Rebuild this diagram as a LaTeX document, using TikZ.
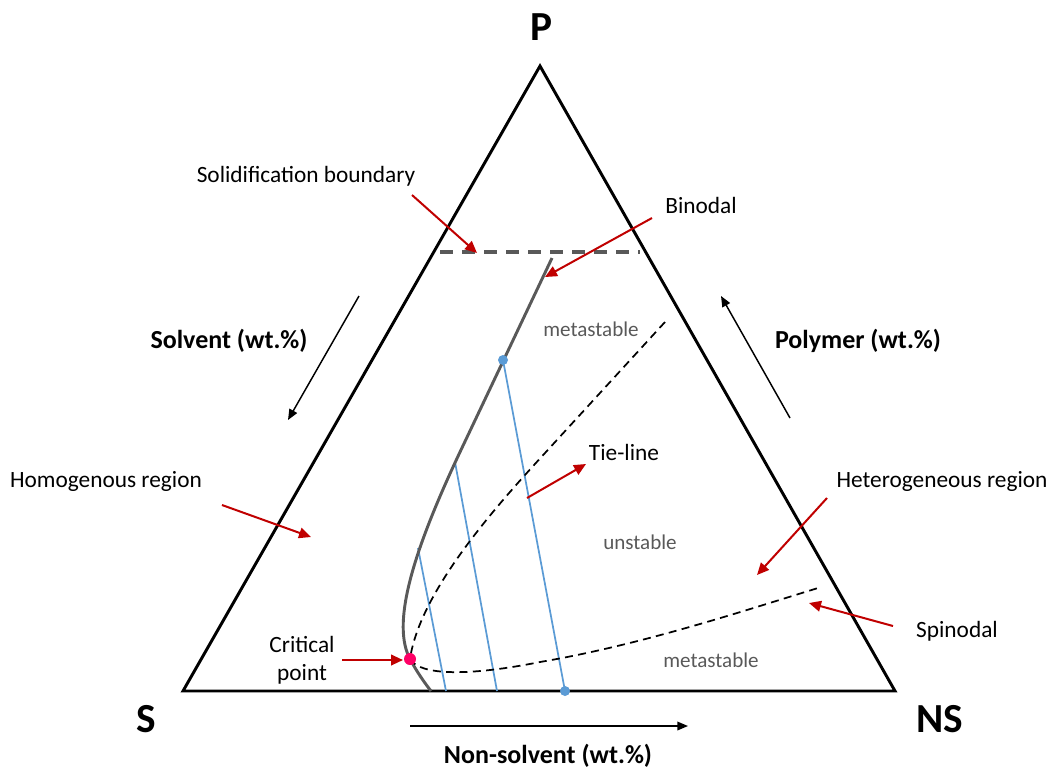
\documentclass[tikz,border=0pt]{standalone}
\usepackage{fontspec}
\setmainfont{Carlito}
\usetikzlibrary{arrows.meta}
\definecolor{darkred}{HTML}{C00000}
\definecolor{tieblue}{HTML}{5B9BD5}
\definecolor{dgray}{HTML}{595959}
\definecolor{critpink}{HTML}{FF0066}
\begin{document}
\begin{tikzpicture}[x=0.75pt,y=-0.75pt,
  lbl/.style={font=\fontsize{17.5}{21}\selectfont, text=black, inner sep=0pt},
  axlbl/.style={font=\bfseries\fontsize{19.5}{23}\selectfont, inner sep=0pt},
  corner/.style={font=\bfseries\fontsize{31}{34}\selectfont, inner sep=0pt},
  region/.style={font=\fontsize{15.8}{19}\selectfont, text=dgray, inner sep=0pt},
  redarrow/.style={draw=darkred, line width=1.5pt, -{Triangle[length=9pt,width=8pt]}},
  blackarrow/.style={draw=black, line width=1.1pt, -{Triangle[length=8pt,width=6.5pt]}},
  tie/.style={draw=tieblue, line width=1.3pt},
  bluedot/.style={circle, fill=tieblue, inner sep=0pt, minimum size=7.5pt},
]
\useasboundingbox (0,0) rectangle (1049,769);
% corners
\coordinate (P) at (540,66);
\coordinate (S) at (183,691);
\coordinate (NS) at (895,691);
\draw[line width=2.2pt, line join=miter] (P) -- (S) -- (NS) -- cycle;
\node[corner] (Plbl) at (541,27) {P};
\node[corner] (Slbl) at (146,719) {S};
\node[corner] (NSlbl) at (940,719) {NS};
% solidification boundary
\coordinate (sb1) at (440,252);
\coordinate (sb2) at (640,252);
\draw[dgray, line width=2.3pt, dash pattern=on 10pt off 6.5pt] (sb1) -- (sb2);
% tie-lines
\coordinate (t1a) at (503,360); \coordinate (t1b) at (565,691);
\coordinate (t2a) at (455,462); \coordinate (t2b) at (497,691);
\coordinate (t3a) at (418,548); \coordinate (t3b) at (446,691);
\draw[tie] (t1a) -- (t1b);
\draw[tie] (t2a) -- (t2b);
\draw[tie] (t3a) -- (t3b);
% binodal
\coordinate (bTop) at (552,258);
\coordinate (bMid) at (460,452);
\coordinate (crit) at (410,659);
\coordinate (bEnd) at (431,691);
\draw[dgray, line width=2.2pt] (bTop) -- (bMid) .. controls (410,558) and (392,625) .. (crit) .. controls (417,672) and (424,682) .. (bEnd);
% spinodal
\coordinate (sTop) at (665,322);
\coordinate (sA) at (545,453);
\coordinate (sEnd) at (818,588);
\draw[black, line width=1.3pt, dash pattern=on 6pt off 4pt] (sTop) -- (sA) .. controls (500,502) and (420,590) .. (crit)
  .. controls (420,676) and (470,676) .. (540,662) .. controls (640,645) and (740,612) .. (sEnd);
% dots
\node[bluedot] (d1) at (t1a) {};
\node[bluedot] (d2) at (t1b) {};
\node[circle, fill=critpink, inner sep=0pt, minimum size=9pt] (cp) at (crit) {};
% region labels
\node[region] (meta1) at (591,329) {metastable};
\node[region] (unst) at (640,542) {unstable};
\node[region] (meta2) at (711,660) {metastable};
% text labels
\node[lbl] (solid) at (306,176) {Solidification boundary};
\node[lbl] (bino) at (701,205) {Binodal};
\node[lbl] (tiel) at (624,452) {Tie-line};
\node[lbl] (homo) at (106,481) {Homogenous region};
\node[lbl] (hetero) at (942,481) {Heterogeneous region};
\node[lbl] (spino) at (957,631) {Spinodal};
\node[lbl, align=center, font=\fontsize{17.5}{21}\selectfont] (critl) at (302,660) {Critical\\point};
% red arrows
\coordinate (a1s) at (412,195); \coordinate (a1e) at (477,253);
\draw[redarrow] (a1s) -- (a1e);
\coordinate (a2s) at (652,218); \coordinate (a2e) at (545,277);
\draw[redarrow] (a2s) -- (a2e);
\coordinate (a3s) at (527,498); \coordinate (a3e) at (586,464);
\draw[redarrow] (a3s) -- (a3e);
\coordinate (a4s) at (827,498); \coordinate (a4e) at (757,575);
\draw[redarrow] (a4s) -- (a4e);
\coordinate (a5s) at (893,626); \coordinate (a5e) at (809,603);
\draw[redarrow] (a5s) -- (a5e);
\coordinate (a6s) at (222,505); \coordinate (a6e) at (311,537);
\draw[redarrow] (a6s) -- (a6e);
\coordinate (a7s) at (342,660); \coordinate (a7e) at (403,660);
\draw[redarrow] (a7s) -- (a7e);
% axis labels and arrows
\node[axlbl] (solv) at (229,341) {Solvent (wt.\%)};
\node[axlbl] (poly) at (858,341) {Polymer (wt.\%)};
\node[axlbl] (nons) at (548,756) {Non-solvent (wt.\%)};
\coordinate (b1s) at (359,296); \coordinate (b1e) at (288,420);
\draw[blackarrow] (b1s) -- (b1e);
\coordinate (b2s) at (790,418); \coordinate (b2e) at (721,296);
\draw[blackarrow] (b2s) -- (b2e);
\coordinate (b3s) at (410,726); \coordinate (b3e) at (688,726);
\draw[blackarrow] (b3s) -- (b3e);
\end{tikzpicture}
\end{document}
